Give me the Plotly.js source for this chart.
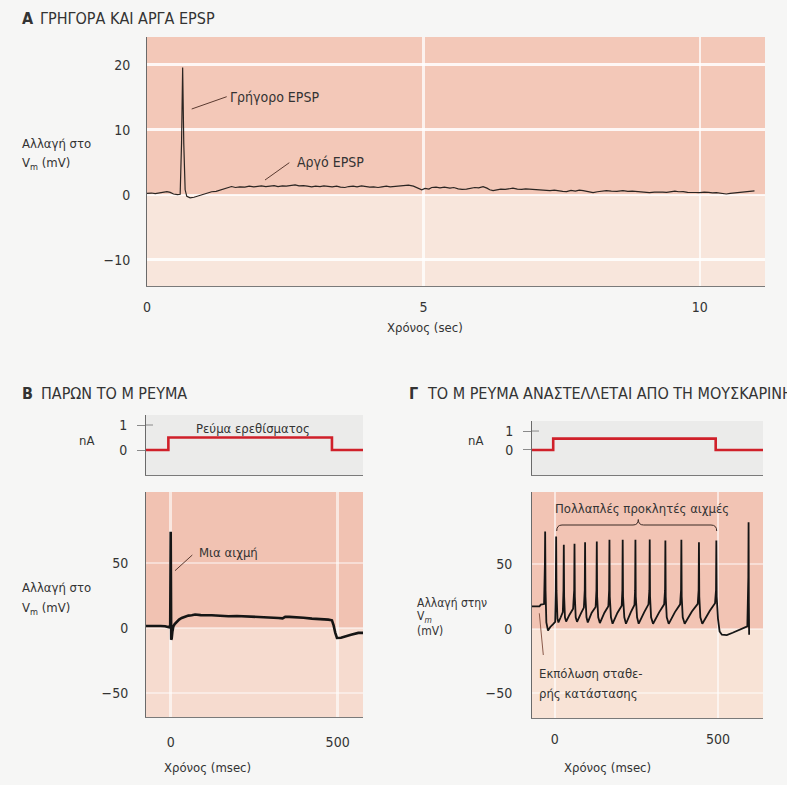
<!DOCTYPE html>
<html><head><meta charset="utf-8">
<script src="https://cdn.plot.ly/plotly-3.0.1.min.js"></script>
<style>html,body{margin:0;padding:0;background:#f6f6f5;} #chart{width:787px;height:785px;}</style>
</head><body><div id="chart"></div>
<script>
// ---------- DATA ----------
// Panel A: fast and slow EPSP (time in sec, change in Vm in mV)
const aTime = [0.00,0.08,0.15,0.22,0.30,0.36,0.42,0.48,0.55,0.60,0.625,0.645,0.665,0.69,0.72,0.78,0.85,0.92,1.00,1.08,
1.17,1.25,1.33,1.41,1.47,1.53,1.60,1.68,1.77,1.85,1.93,2.00,2.07,2.15,2.22,2.30,2.37,2.45,2.52,2.60,
2.68,2.75,2.83,2.90,2.98,3.05,3.13,3.20,3.28,3.35,3.43,3.50,3.58,3.65,3.73,3.80,3.88,3.95,4.03,4.10,
4.18,4.25,4.33,4.40,4.48,4.55,4.63,4.73,4.82,4.90,4.97,5.03,5.10,5.15,5.23,5.30,5.38,5.48,5.55,5.63,
5.70,5.78,5.85,5.93,6.00,6.08,6.15,6.20,6.26,6.33,6.40,6.48,6.55,6.62,6.70,6.78,6.85,6.92,6.99,7.07,
7.15,7.22,7.29,7.37,7.45,7.52,7.59,7.67,7.75,7.82,7.89,7.97,8.07,8.15,8.23,8.31,8.40,8.50,8.61,8.70,
8.78,8.86,8.95,9.02,9.09,9.18,9.27,9.33,9.40,9.48,9.55,9.62,9.70,9.78,9.86,9.93,10.00,10.08,10.16,10.23,
10.30,10.38,10.44,10.48,10.55,10.62,10.68,10.72,10.80,10.87,10.93,10.99];
const aVm = [0.25,0.30,0.20,0.30,0.35,0.50,0.40,0.15,0.05,0.10,8.0,19.6,8.0,0.8,-0.2,-0.45,-0.35,-0.15,0.05,0.25,
0.50,0.55,0.75,1.05,1.20,1.30,1.15,1.25,1.20,1.35,1.25,1.30,1.40,1.30,1.35,1.45,1.30,1.40,1.35,1.45,
1.55,1.40,1.45,1.35,1.25,1.35,1.30,1.40,1.30,1.25,1.35,1.20,1.15,1.30,1.35,1.25,1.40,1.30,1.20,1.25,
1.15,1.25,1.35,1.25,1.30,1.40,1.45,1.50,1.35,1.05,0.80,1.00,0.90,1.15,1.20,1.10,1.20,1.05,1.15,0.95,
0.85,0.90,1.05,1.15,1.10,1.28,1.05,0.80,0.67,0.80,0.90,0.85,0.95,1.05,0.90,0.85,0.95,0.90,0.92,0.80,
0.75,0.70,0.67,0.75,0.60,0.55,0.51,0.70,0.60,0.75,0.67,0.55,0.36,0.50,0.62,0.67,0.60,0.55,0.67,0.55,
0.60,0.51,0.45,0.40,0.36,0.45,0.38,0.45,0.41,0.55,0.60,0.50,0.51,0.40,0.45,0.38,0.36,0.45,0.40,0.32,
0.36,0.25,0.18,0.15,0.25,0.30,0.40,0.36,0.50,0.55,0.50,0.62];

// Panel B: M current present (time in msec)
const bCurTime = [-74,-7,-7,483,483,576];
const bCurNA   = [0,0,0.5,0.5,0,0];
const bTime = [-74,-60,-45,-30,-17,-5,-1.5,0,1.5,3,5,8,12,18,25,33,43,53,63,73,
90,105,123,148,173,198,223,248,273,298,323,335,343,355,373,398,423,448,472,483,
488,493,498,510,522,540,562,577];
const bVm = [1.5,1.6,1.4,1.5,1.3,0.5,2,74,-9,-8,-3,1.3,3,5,6.5,7.7,8.8,9.5,9.8,10.3,
9.9,9.6,9.8,9.4,9.0,9.2,9.0,8.8,8.6,8.3,7.7,7.4,8.6,8.5,8.0,7.8,7.2,7.0,6.4,5.9,
2,-3.8,-7.7,-7.5,-6.4,-5.2,-3.8,-3.8];

// Panel C: M current inhibited by muscarine (time in msec)
const cCurTime = [-70,-5,-5,493,493,638];
const cCurNA   = [0,0,0.6,0.6,0,0];
const cTime = [-70,-55,-47,-43,-33,-30.5,-29.7,-28.5,-26,-21,-14,-6,1,3,4,5,8,11,18,24.5,
26.5,27.5,28.5,31,34.6,45,56,59.3,60.3,61.3,64,68,80,89,91.7,92.7,93.7,97,101,113,
125,127.6,128.6,129.6,133,138,152,164,166.4,167.4,168.4,172,177,192,205,207,208,209,213,218,
233,244,246,247,248,252,257,274,287,289.8,290.8,291.8,295,301,320,335,337.8,338.8,339.8,343,
349,368,384,386.8,387.8,388.8,392,398,420,438,440.7,441.7,442.7,446,452,475,491,494,495,496,
500,505,512,527,545,565,582,590,593,593.8,594.6,595.5];
const cVm = [17.5,17.6,17.5,18.8,19.2,50,75.4,30,5,-1.3,1.5,3.5,5.5,30,71.5,30,8,5,9,13,
30,65.1,25,9,5.7,11,15.7,30,65.9,25,9,5.5,12,16.5,30,67.1,25,9,5,12.5,
17,30,67.7,25,9,4.5,12.5,17.5,30,69,25,9,4,12.5,18,30,69,25,9,4,
13,18.5,30,69,25,9,4,13,19,30,69.2,25,9,4,13,19,30,68.4,25,9,
3.9,13,19,30,69,25,9,4,13.5,19.4,30,67.1,25,9,4,14,19.9,30,68.4,25,
8,-2,-4.5,-4.8,-3,-0.5,1.5,2,40,82.6,20,-4.5];

// tick values / labels
const aXTicks = [0,5,10];
const aYTicks = [-10,0,10,20];
const curTicks = [0,1];
const msTicks = [0,500];
const mvTicks = [-50,0,50];

// ---------- LAYOUT HELPERS ----------
const W = 787, H = 785;
const px = x => x / W;
const py = y => 1 - y / H;
const FONT = '"Liberation Sans Narrow", "DejaVu Sans Condensed", "Arial Narrow", "Roboto Condensed", "Liberation Sans", Arial, sans-serif';
const TXT = '#333333';

const aRange = [-14, 24.3];
const bCurRange = [-1.0, 1.4];
const bVRange = [-68.5, 104.6];
const cCurRange = [-1.32, 1.53];
const cVRange = [-69, 106];

function lab(text, x, y, anchor, size, extra) {
  return Object.assign({xref:'paper', yref:'paper', x:px(x), y:py(y), text:text, showarrow:false,
    xanchor:anchor || 'left', yanchor:'middle', font:{family:FONT, size:size || 13, color:TXT}}, extra || {});
}
function seg(x0,y0,x1,y1,color,w) {
  return {type:'line', xref:'paper', yref:'paper', x0:px(x0), y0:py(y0), x1:px(x1), y1:py(y1),
    line:{color:color || '#5a3a30', width:w || 1}};
}
function bg(xr, yr, y0, y1, color, yDomain) {
  return {type:'rect', layer:'below', xref:xr + ' domain', x0:0, x1:1,
    yref: yDomain ? yr + ' domain' : yr, y0:y0, y1:y1, fillcolor:color, line:{width:0}};
}

const tickFont = {family:FONT, size:14, color:TXT};
function xAx(domain, range, tickvals, anchor, opts) {
  return Object.assign({domain:domain, range:range, anchor:anchor, tickvals:tickvals, showgrid:true,
    gridcolor:'rgba(255,255,255,0.75)', gridwidth:2.5, zeroline:false, showline:true, linecolor:'#7a7a7a', linewidth:1,
    ticks:'outside', ticklen:8, tickcolor:'rgba(0,0,0,0)', tickfont:tickFont, fixedrange:true}, opts || {});
}
function yAx(domain, range, tickvals, anchor, opts) {
  return Object.assign({domain:domain, range:range, anchor:anchor, tickvals:tickvals, showgrid:true,
    gridcolor:'rgba(255,255,255,0.75)', gridwidth:2.5, zeroline:false, showline:true, linecolor:'#6a6a6a', linewidth:1,
    ticks:'outside', ticklen:14, tickcolor:'rgba(0,0,0,0)', tickfont:tickFont, fixedrange:true}, opts || {});
}

const traces = [
  {x:aTime, y:aVm, xaxis:'x', yaxis:'y', mode:'lines', line:{color:'#2b2522', width:1.2}, hoverinfo:'skip'},
  {x:bCurTime, y:bCurNA, xaxis:'x2', yaxis:'y2', mode:'lines', line:{color:'#d0202a', width:2.6}, hoverinfo:'skip'},
  {x:bTime, y:bVm, xaxis:'x3', yaxis:'y3', mode:'lines', line:{color:'#151515', width:2.6}, hoverinfo:'skip'},
  {x:cCurTime, y:cCurNA, xaxis:'x4', yaxis:'y4', mode:'lines', line:{color:'#d0202a', width:2.6}, hoverinfo:'skip'},
  {x:cTime, y:cVm, xaxis:'x5', yaxis:'y5', mode:'lines', line:{color:'#151515', width:1.8}, hoverinfo:'skip'}
];

const bX = [px(146), px(363)];
const cX = [px(532), px(763)];

const braceY = 525, braceEnd = 531;
const brace = 'M ' + px(556.7) + ',' + py(braceEnd) + ' Q ' + px(556.7) + ',' + py(braceY) + ' ' + px(562) + ',' + py(braceY) +
  ' L ' + px(633) + ',' + py(braceY) + ' Q ' + px(638.3) + ',' + py(braceY) + ' ' + px(638.3) + ',' + py(519.5) +
  ' Q ' + px(638.3) + ',' + py(braceY) + ' ' + px(643.6) + ',' + py(braceY) +
  ' L ' + px(711) + ',' + py(braceY) + ' Q ' + px(716.7) + ',' + py(braceY) + ' ' + px(716.7) + ',' + py(braceEnd);

const layout = {
  width:W, height:H, margin:{l:0, r:0, t:0, b:0},
  paper_bgcolor:'#f6f6f5', plot_bgcolor:'rgba(0,0,0,0)', showlegend:false,
  font:{family:FONT, color:TXT},
  xaxis: xAx([px(147), px(765)], [0, 11.18], aXTicks, 'y', {ticklen:8}),
  yaxis: yAx([py(286), py(37)], aRange, aYTicks, 'x', {zeroline:true, zerolinecolor:'rgba(255,255,255,0.8)', zerolinewidth:2,
    gridcolor:'rgba(255,255,255,0.85)', gridwidth:3, ticklen:13}),
  xaxis2: xAx(bX, [-74, 576], msTicks, 'y2', {showticklabels:false, showgrid:false, ticks:''}),
  yaxis2: yAx([py(475), py(415)], bCurRange, curTicks, 'x2', {showgrid:false, ticks:'outside', ticklen:8, tickcolor:'#8a8a8a', ticklabelstandoff:7}),
  xaxis3: xAx(bX, [-74, 576], msTicks, 'y3', {ticklen:12, gridcolor:'rgba(255,255,255,0.6)'}),
  yaxis3: yAx([py(717), py(492)], bVRange, mvTicks, 'x3', {gridcolor:'rgba(255,255,255,0.45)', gridwidth:2}),
  xaxis4: xAx(cX, [-70, 638], msTicks, 'y4', {showticklabels:false, showgrid:false, ticks:''}),
  yaxis4: yAx([py(475), py(421)], cCurRange, curTicks, 'x4', {showgrid:false, ticks:'outside', ticklen:8, tickcolor:'#8a8a8a', ticklabelstandoff:7}),
  xaxis5: xAx(cX, [-70, 638], msTicks, 'y5', {ticklen:8, gridcolor:'rgba(255,255,255,0.6)'}),
  yaxis5: yAx([py(718), py(492)], cVRange, mvTicks, 'x5', {gridcolor:'rgba(255,255,255,0.45)', gridwidth:2, ticklen:16}),
  shapes: [
    bg('x','y',0,1,'#f8e6dc',true),
    bg('x','y',0,aRange[1],'#f3c8b8'),
    bg('x2','y2',0,1,'#ebebea',true),
    bg('x3','y3',0,1,'#f6dbcf',true),
    bg('x3','y3',0,bVRange[1],'#f1c2b2'),
    bg('x4','y4',0,1,'#ebebea',true),
    bg('x5','y5',0,1,'#f8e3d6',true),
    bg('x5','y5',0,cVRange[1],'#f2c4b4'),
    // cross ticks at 1 nA
    {type:'line', xref:'paper', yref:'y2', x0:px(146), x1:px(153), y0:1, y1:1, line:{color:'#8a8a8a', width:1}},
    {type:'line', xref:'paper', yref:'y4', x0:px(532), x1:px(539), y0:1, y1:1, line:{color:'#8a8a8a', width:1}},
    // leader lines
    seg(191.7,109,226.7,96.7),
    seg(265,180,289.3,162.7),
    seg(175,570.7,192.3,555),
    seg(539.3,613.3,543.3,655,'#8a5a4a',1),
    {type:'path', xref:'paper', yref:'paper', path:brace, line:{color:'#3a2a25', width:1}}
  ],
  annotations: [
    lab('<b>Α</b>', 20, 19, 'left', 16),
    lab('ΓΡΗΓΟΡΑ ΚΑΙ ΑΡΓΑ EPSP', 38, 19, 'left', 16),
    lab('<b>Β</b>', 20, 393, 'left', 16),
    lab('ΠΑΡΩΝ ΤΟ Μ ΡΕΥΜΑ', 39, 393, 'left', 16),
    lab('<b>Γ</b>', 406.7, 393, 'left', 16),
    lab('ΤΟ Μ ΡΕΥΜΑ ΑΝΑΣΤΕΛΛΕΤΑΙ ΑΠΟ ΤΗ ΜΟΥΣΚΑΡΙΝΗ', 425, 393, 'left', 16),
    lab('Γρήγορο EPSP', 228, 97, 'left', 14),
    lab('Αργό EPSP', 295, 162, 'left', 14),
    lab('Αλλαγή στο', 20, 144),
    lab('V<sub>m</sub> (mV)', 20, 164),
    lab('Χρόνος (sec)', 425, 327, 'center'),
    lab('nA', 86, 440, 'center'),
    lab('Ρεύμα ερεθίσματος', 253, 428, 'center'),
    lab('Μια αιχμή', 197, 552),
    lab('Αλλαγή στο', 20, 587),
    lab('V<sub>m</sub> (mV)', 20, 608),
    lab('Χρόνος (msec)', 207, 767, 'center'),
    lab('nA', 475, 440, 'center'),
    lab('Πολλαπλές προκλητές αιχμές', 641.7, 508, 'center'),
    lab('Αλλαγή στην', 415, 603, 'left', 12),
    lab('V<sub><i>m</i></sub>', 415, 617, 'left', 12),
    lab('(mV)', 415, 631, 'left', 12),
    lab('Εκπόλωση σταθε-', 536.7, 673),
    lab('ρής κατάστασης', 536.7, 693),
    lab('Χρόνος (msec)', 607, 767, 'center')
  ]
};

Plotly.newPlot('chart', traces, layout, {staticPlot:true, displayModeBar:false});
</script></body></html>
